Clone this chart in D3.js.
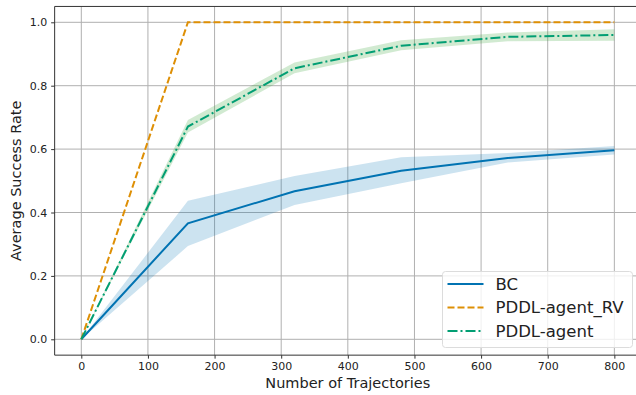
<!DOCTYPE html>
<html>
<head>
<meta charset="utf-8">
<script src="https://cdn.jsdelivr.net/npm/d3@7"></script>
<style>
  html, body { margin: 0; padding: 0; background: #fff; }
  svg { display: block; font-family: "DejaVu Sans", sans-serif; }
</style>
</head>
<body>
<div id="chart"></div>
<script>
// trajectories used for training
const trajectories = [0, 160, 320, 480, 640, 800];

// mean success rate per method
const bcMean = [0, 0.366, 0.467, 0.532, 0.572, 0.596];
const bcLow = [0, 0.294, 0.424, 0.492, 0.558, 0.583];
const bcHigh = [0, 0.437, 0.515, 0.574, 0.588, 0.610];

const rvMean = [0, 1.0, 1.0, 1.0, 1.0, 1.0];

const agentMean = [0, 0.671, 0.855, 0.926, 0.954, 0.960];
const agentLow = [0, 0.652, 0.839, 0.912, 0.940, 0.942];
const agentHigh = [0, 0.692, 0.873, 0.943, 0.968, 0.978];

const xTicks = [0, 100, 200, 300, 400, 500, 600, 700, 800];
const yTicks = [0.0, 0.2, 0.4, 0.6, 0.8, 1.0];

const width = 636, height = 395;
const margin = { left: 54.65, right: -5, top: 6.45, bottom: 39.85 };

const svg = d3.select('#chart').append('svg')
    .attr('width', width)
    .attr('height', height);

const x = d3.scaleLinear()
    .domain([-40, 840])
    .range([margin.left, width - margin.right]);

const y = d3.scaleLinear()
    .domain([-0.05, 1.05])
    .range([height - margin.bottom, margin.top]);

// grid
const grid = svg.append('g');
grid.selectAll('line.gx')
    .data(xTicks)
    .join('line')
    .attr('class', 'gx')
    .attr('x1', d => x(d)).attr('x2', d => x(d))
    .attr('y1', y(-0.05)).attr('y2', y(1.05))
    .attr('stroke', '#b0b0b0')
    .attr('stroke-width', 1);
grid.selectAll('line.gy')
    .data(yTicks)
    .join('line')
    .attr('class', 'gy')
    .attr('y1', d => y(d)).attr('y2', d => y(d))
    .attr('x1', x(-40)).attr('x2', x(840))
    .attr('stroke', '#b0b0b0')
    .attr('stroke-width', 1);

const series = [
    { name: 'BC', mean: bcMean, low: bcLow, high: bcHigh, color: '#0173b2', band: 'rgba(1,115,178,0.2)', dash: null },
    { name: 'PDDL-agent_RV', mean: rvMean, low: null, high: null, color: '#de8f05', band: null, dash: '7,3' },
    { name: 'PDDL-agent', mean: agentMean, low: agentLow, high: agentHigh, color: '#029e73', band: 'rgba(44,160,44,0.22)', dash: '10,3,2,3' }
];

const area = d3.area()
    .x(d => x(d.x))
    .y0(d => y(d.lo))
    .y1(d => y(d.hi));

const line = d3.line()
    .x(d => x(d.x))
    .y(d => y(d.v));

series.forEach(s => {
    if (!s.low) return;
    const pts = trajectories.map((t, i) => ({ x: t, lo: s.low[i], hi: s.high[i] }));
    svg.append('path')
        .datum(pts)
        .attr('d', area)
        .attr('fill', s.band)
        .attr('stroke', 'none');
});

series.forEach(s => {
    const pts = trajectories.map((t, i) => ({ x: t, v: s.mean[i] }));
    svg.append('path')
        .datum(pts)
        .attr('d', line)
        .attr('fill', 'none')
        .attr('stroke', s.color)
        .attr('stroke-width', 2)
        .attr('stroke-dasharray', s.dash);
});

// spines
const spine = svg.append('g').attr('stroke', '#333').attr('stroke-width', 1).attr('fill', 'none');
spine.append('line').attr('x1', x(-40)).attr('x2', x(-40)).attr('y1', y(-0.05)).attr('y2', y(1.05));
spine.append('line').attr('x1', x(-40)).attr('x2', x(840)).attr('y1', y(-0.05)).attr('y2', y(-0.05));
spine.append('line').attr('x1', x(-40)).attr('x2', x(840)).attr('y1', y(1.05)).attr('y2', y(1.05));

// axes
const xAxis = svg.append('g')
    .attr('transform', `translate(0,${y(-0.05)})`)
    .call(d3.axisBottom(x).tickValues(xTicks).tickSize(3.5).tickPadding(4).tickFormat(d3.format('d')));
const yAxis = svg.append('g')
    .attr('transform', `translate(${x(-40)},0)`)
    .call(d3.axisLeft(y).tickValues(yTicks).tickSize(3.5).tickPadding(4).tickFormat(d3.format('.1f')));
[xAxis, yAxis].forEach(a => {
    a.select('.domain').remove();
    a.selectAll('.tick line').attr('stroke', '#333');
    a.selectAll('.tick text')
        .attr('fill', '#222')
        .style('font-family', '"DejaVu Sans", sans-serif')
        .style('font-size', '11px');
});

svg.append('text')
    .attr('x', (x(-40) + x(840)) / 2)
    .attr('y', 388)
    .attr('text-anchor', 'middle')
    .attr('fill', '#222')
    .style('font-size', '14.5px')
    .text('Number of Trajectories');

svg.append('text')
    .attr('transform', `translate(20.5,${(y(-0.05) + y(1.05)) / 2}) rotate(-90)`)
    .attr('text-anchor', 'middle')
    .attr('fill', '#222')
    .style('font-size', '14.5px')
    .text('Average Success Rate');

// legend
const legend = svg.append('g').attr('transform', 'translate(442.5,271.5)');
legend.append('rect')
    .attr('width', 190)
    .attr('height', 76)
    .attr('rx', 3)
    .attr('fill', 'rgba(255,255,255,0.8)')
    .attr('stroke', '#dcdcdc')
    .attr('stroke-width', 1);

const item = legend.selectAll('g.item')
    .data(series)
    .join('g')
    .attr('class', 'item')
    .attr('transform', (d, i) => `translate(0,${12.5 + i * 23.5})`);
item.append('line')
    .attr('x1', 5).attr('x2', 41)
    .attr('stroke', d => d.color)
    .attr('stroke-width', 2)
    .attr('stroke-dasharray', d => d.dash);
item.append('text')
    .attr('x', 53)
    .attr('dy', '0.36em')
    .attr('fill', '#222')
    .style('font-size', '16.5px')
    .text(d => d.name);
</script>
</body>
</html>
